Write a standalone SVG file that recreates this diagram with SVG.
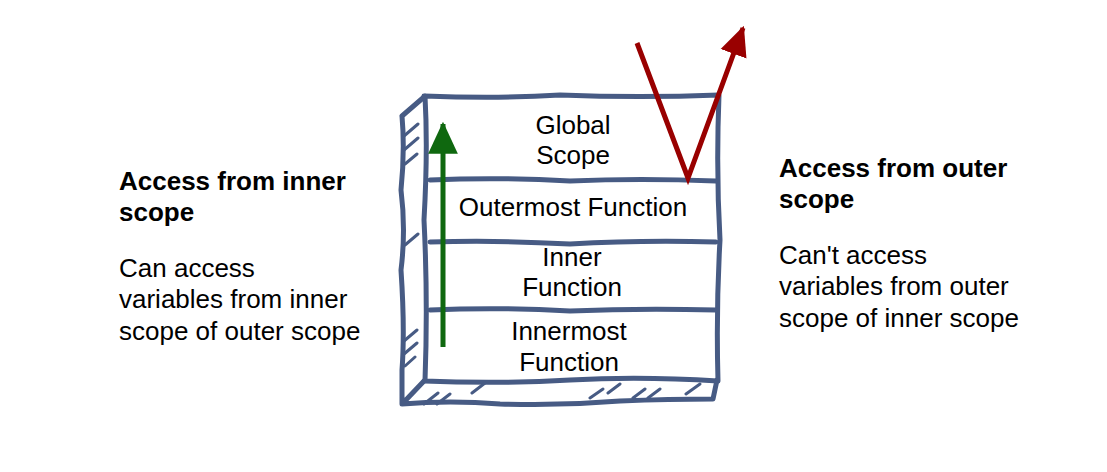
<svg xmlns="http://www.w3.org/2000/svg" width="1107" height="472" viewBox="0 0 1107 472">
<style>
.sk{fill:none;stroke:#475b84;stroke-width:5;stroke-linecap:round;stroke-linejoin:round}
.ht{fill:none;stroke:#475b84;stroke-width:3;stroke-linecap:round}
.t{font-family:"Liberation Sans",Arial,sans-serif;font-size:26px;fill:#000}
.b{font-weight:bold}
.c{text-anchor:middle}
</style>
<defs>
<marker id="ag" markerUnits="userSpaceOnUse" markerWidth="32" markerHeight="32" refX="26" refY="13" orient="auto" viewBox="0 0 28 26">
<path d="M0,0 L28,13 L0,26 Z" fill="#0f680f"/>
</marker>
<marker id="ar" markerUnits="userSpaceOnUse" markerWidth="30" markerHeight="30" refX="22" refY="11" orient="auto" viewBox="0 0 24 22">
<path d="M0,0 L24,11 L0,22 Z" fill="#990000"/>
</marker>
</defs>
<rect width="1107" height="472" fill="#fff"/>
<g id="box">
<rect x="425" y="96" width="293" height="284" fill="#fff"/>
<path class="sk" d="M424,97 L402,116 M402,116 Q405,150 401,190 Q406,230 401,270 Q405,330 402,370 L402,404 M402,404 Q450,400 500,404 Q560,406 620,401 Q670,399 713,399 L717,380 M424,381 L404,402"/>
<path class="sk" d="M424,96 Q500,99 560,95 Q640,98 719,95 M719,95 Q716,170 720,240 Q716,310 718,381 M718,381 Q640,376 570,380 Q500,384 424,381 M425,381 Q428,300 424,220 Q428,150 425,96"/>
<path class="ht" d="M404,136 L418,124 M404,150 L418,138 M405,164 L417,154 M405,245 L418,234 M404,341 L417,330 M404,354 L417,343 M405,366 L415,357 M424,404 L438,393 M437,404 L450,394 M472,393 L485,383 M590,398 L603,389 M608,393 L620,384 M633,398 L645,389 M648,398 L660,389 M686,394 L700,384"/>
</g>
<g id="global-scope">
<path class="sk" d="M430,180 Q500,177 570,181 Q640,178 716,181"/>
<text class="t c" x="573" y="134">Global</text>
<text class="t c" x="573" y="164">Scope</text>
</g>
<g id="outermost-function">
<path class="sk" d="M430,242 Q500,240 570,244 Q640,240 716,242"/>
<text class="t c" x="573" y="216">Outermost Function</text>
</g>
<g id="inner-function">
<path class="sk" d="M430,310 Q500,307 570,311 Q640,308 716,310"/>
<text class="t c" x="572" y="266">Inner</text>
<text class="t c" x="572" y="296">Function</text>
</g>
<g id="innermost-function">
<text class="t c" x="569" y="340">Innermost</text>
<text class="t c" x="569" y="371">Function</text>
</g>
<g id="inner-note">
<text class="t b" x="119" y="190">Access from inner</text>
<text class="t b" x="119" y="221">scope</text>
<text class="t" x="119" y="277">Can access</text>
<text class="t" x="119" y="308">variables from inner</text>
<text class="t" x="119" y="340">scope of outer scope</text>
</g>
<g id="outer-note">
<text class="t b" x="779" y="177">Access from outer</text>
<text class="t b" x="779" y="208">scope</text>
<text class="t" x="779" y="264">Can't access</text>
<text class="t" x="779" y="295">variables from outer</text>
<text class="t" x="779" y="327">scope of inner scope</text>
</g>
<g id="connectors">
<path d="M443,347 L443,124" fill="none" stroke="#0f680f" stroke-width="5" marker-end="url(#ag)"/>
<path d="M637,43 L688,178 L743,28" fill="none" stroke="#990000" stroke-width="5" stroke-linejoin="miter" marker-end="url(#ar)"/>
</g>
</svg>
